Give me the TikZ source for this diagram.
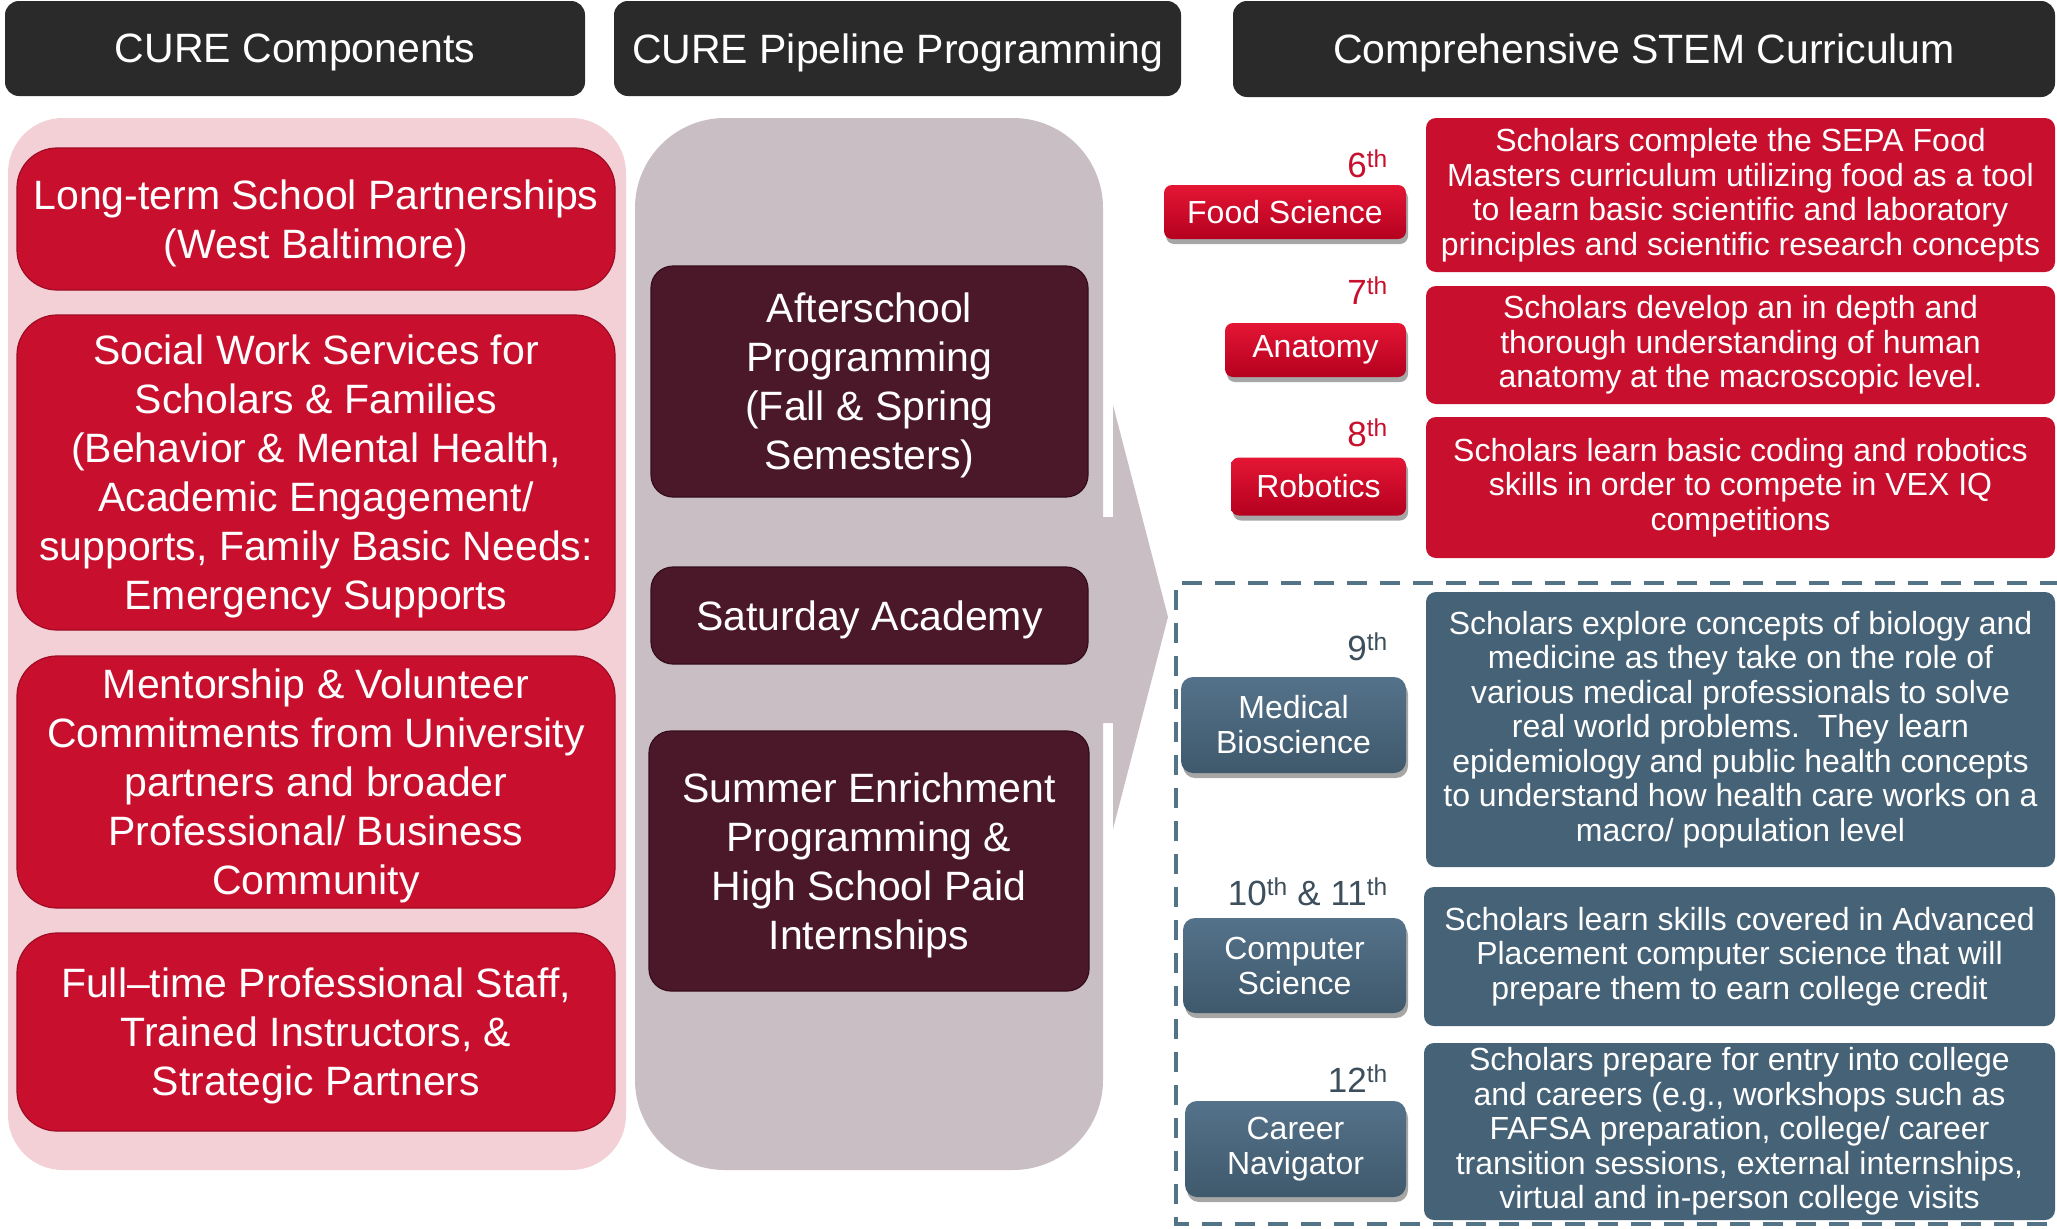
\documentclass[tikz,border=0pt]{standalone}
\usepackage{fontspec}
\setmainfont{Liberation Sans}
\usetikzlibrary{shadows}
\definecolor{hdr}{HTML}{2A2A2A}
\definecolor{pinkpanel}{HTML}{F2D0D6}
\definecolor{cred}{HTML}{C8102E}
\definecolor{credd}{HTML}{A00A24}
\definecolor{graypanel}{HTML}{C9BEC4}
\definecolor{maroon}{HTML}{4A1828}
\definecolor{maroond}{HTML}{350E1B}
\definecolor{slate}{HTML}{466277}
\definecolor{slatetop}{HTML}{54728A}
\definecolor{slatebot}{HTML}{3F596C}
\definecolor{redtop}{HTML}{E41634}
\definecolor{redbot}{HTML}{B5001F}
\definecolor{dashc}{HTML}{527486}
\definecolor{gradered}{HTML}{C8102E}
\definecolor{gradeslate}{HTML}{3D4F5C}
\begin{document}
\begin{tikzpicture}[x=1pt,y=-1pt,
  hdrbox/.style={fill=hdr, rounded corners=14pt, text=white, inner sep=0pt, text depth=0pt,
    font=\fontsize{41}{48}\selectfont},
  redbox/.style={fill=cred, draw=credd, line width=1.2pt, rounded corners=40pt, text=white,
    align=center, inner sep=0pt, text depth=0pt, font=\fontsize{41}{49}\selectfont},
  maroonbox/.style={fill=maroon, draw=maroond, line width=1.2pt, rounded corners=22pt, text=white,
    align=center, inner sep=0pt, text depth=0pt, font=\fontsize{41}{49}\selectfont},
  descred/.style={fill=cred, rounded corners=10pt, text=white, align=center, inner sep=0pt,
    font=\fontsize{32}{34.5}\selectfont},
  descslate/.style={fill=slate, rounded corners=10pt, text=white, align=center, inner sep=0pt,
    font=\fontsize{32}{34.5}\selectfont},
  btnred/.style={top color=redtop, bottom color=redbot, rounded corners=8pt, text=white,
    align=center, inner sep=0pt, font=\fontsize{32}{35}\selectfont,
    drop shadow={shadow xshift=2pt, shadow yshift=-5pt, opacity=0.35, fill=black}},
  btnslate/.style={top color=slatetop, bottom color=slatebot, rounded corners=12pt, text=white,
    align=center, inner sep=0pt, font=\fontsize{32}{35}\selectfont,
    drop shadow={shadow xshift=2pt, shadow yshift=-5pt, opacity=0.35, fill=black}},
  graderd/.style={anchor=base east, text=gradered, inner sep=0pt, font=\fontsize{35}{40}\selectfont},
  gradesl/.style={anchor=base east, text=gradeslate, inner sep=0pt, font=\fontsize{35}{40}\selectfont},
  panel/.style={inner sep=0pt}
]
\useasboundingbox (0,0) rectangle (2057,1229);
\fill[white] (0,0) rectangle (2057,1229);

% headers
\node[hdrbox, minimum width=580pt, minimum height=95pt] (h1) at (295,48.5) {CURE Components};
\node[hdrbox, minimum width=567pt, minimum height=95pt] (h2) at (897.5,48.5) {CURE Pipeline Programming};
\node[hdrbox, minimum width=822pt, minimum height=96pt] (h3) at (1644,49) {Comprehensive STEM Curriculum};

% left panel
\node[panel, fill=pinkpanel, rounded corners=55pt, minimum width=618pt, minimum height=1052pt] (pp) at (317,644) {};
\node[redbox, minimum width=598pt, minimum height=142pt] (r1) at (316,219)
  {Long-term School Partnerships\\(West Baltimore)};
\node[redbox, minimum width=598pt, minimum height=315pt] (r2) at (316,472.5)
  {Social Work Services for\\Scholars \& Families\\(Behavior \& Mental Health,\\Academic Engagement/\\supports, Family Basic Needs:\\Emergency Supports};
\node[redbox, minimum width=598pt, minimum height=252pt] (r3) at (316,782)
  {Mentorship \& Volunteer\\Commitments from University\\partners and broader\\Professional/ Business\\Community};
\node[redbox, minimum width=598pt, minimum height=198pt] (r4) at (316,1032)
  {Full–time Professional Staff,\\Trained Instructors, \&\\Strategic Partners};

% middle panel with arrow
\node[panel, fill=graypanel, rounded corners=90pt, minimum width=468pt, minimum height=1052pt] (gp) at (869,644) {};
\coordinate (a1) at (1100,517);
\coordinate (a2) at (1113,517);
\coordinate (a3) at (1113,405);
\coordinate (a4) at (1168,617);
\coordinate (a5) at (1113,829);
\coordinate (a6) at (1113,723);
\coordinate (a7) at (1100,723);
\fill[graypanel] (a1) -- (a2) -- (a3) -- (a4) -- (a5) -- (a6) -- (a7) -- cycle;

\node[maroonbox, minimum width=437pt, minimum height=231pt] (m1) at (869.5,381.5)
  {Afterschool\\Programming\\(Fall \& Spring\\Semesters)};
\node[maroonbox, minimum width=437pt, minimum height=97pt] (m2) at (869.5,615.5)
  {Saturday Academy};
\node[maroonbox, minimum width=440pt, minimum height=260pt] (m3) at (869,861)
  {Summer Enrichment\\Programming \&\\High School Paid\\Internships};

% dashed frame
\coordinate (f1) at (2060,583);
\coordinate (f2) at (1176,583);
\coordinate (f3) at (1176,1224);
\coordinate (f4) at (2060,1224);
\draw[dashc, line width=4pt, dash pattern=on 20pt off 13pt] (f1) -- (f2) -- (f3) -- (f4);

% right: grades
\node[graderd] (g6) at (1388,177) {6\textsuperscript{th}};
\node[graderd] (g7) at (1388,304) {7\textsuperscript{th}};
\node[graderd] (g8) at (1388,446) {8\textsuperscript{th}};
\node[gradesl] (g9) at (1388,660) {9\textsuperscript{th}};
\node[gradesl] (g10) at (1388,905) {10\textsuperscript{th} \& 11\textsuperscript{th}};
\node[gradesl] (g12) at (1388,1092) {12\textsuperscript{th}};

% buttons
\node[btnred, minimum width=242pt, minimum height=54pt] (b1) at (1285,212) {Food Science};
\node[btnred, minimum width=181pt, minimum height=54pt] (b2) at (1315.5,350) {Anatomy};
\node[btnred, minimum width=175pt, minimum height=58pt] (b3) at (1318.5,486.5) {Robotics};
\node[btnslate, minimum width=225pt, minimum height=96pt] (b4) at (1293.5,725) {Medical\\Bioscience};
\node[btnslate, minimum width=223pt, minimum height=95pt] (b5) at (1294.5,965.5) {Computer\\Science};
\node[btnslate, minimum width=221pt, minimum height=96pt] (b6) at (1295.5,1149) {Career\\Navigator};

% descriptions
\node[descred, minimum width=629pt, minimum height=154pt] (d1) at (1740.5,195)
  {Scholars complete the SEPA Food\\Masters curriculum utilizing food as a tool\\to learn basic scientific and laboratory\\principles and scientific research concepts};
\node[descred, minimum width=629pt, minimum height=118pt] (d2) at (1740.5,345)
  {Scholars develop an in depth and\\thorough understanding of human\\anatomy at the macroscopic level.};
\node[descred, minimum width=629pt, minimum height=141pt] (d3) at (1740.5,487.5)
  {Scholars learn basic coding and robotics\\skills in order to compete in VEX IQ\\competitions};
\node[descslate, minimum width=629pt, minimum height=275pt] (d4) at (1740.5,729.5)
  {Scholars explore concepts of biology and\\medicine as they take on the role of\\various medical professionals to solve\\real world problems.\ \ They learn\\epidemiology and public health concepts\\to understand how health care works on a\\macro/ population level};
\node[descslate, minimum width=631pt, minimum height=139pt] (d5) at (1739.5,956.5)
  {Scholars learn skills covered in Advanced\\Placement computer science that will\\prepare them to earn college credit};
\node[descslate, minimum width=631pt, minimum height=177pt] (d6) at (1739.5,1131.5)
  {Scholars prepare for entry into college\\and careers (e.g., workshops such as\\FAFSA preparation, college/ career\\transition sessions, external internships,\\virtual and in-person college visits};
\end{tikzpicture}
\end{document}
